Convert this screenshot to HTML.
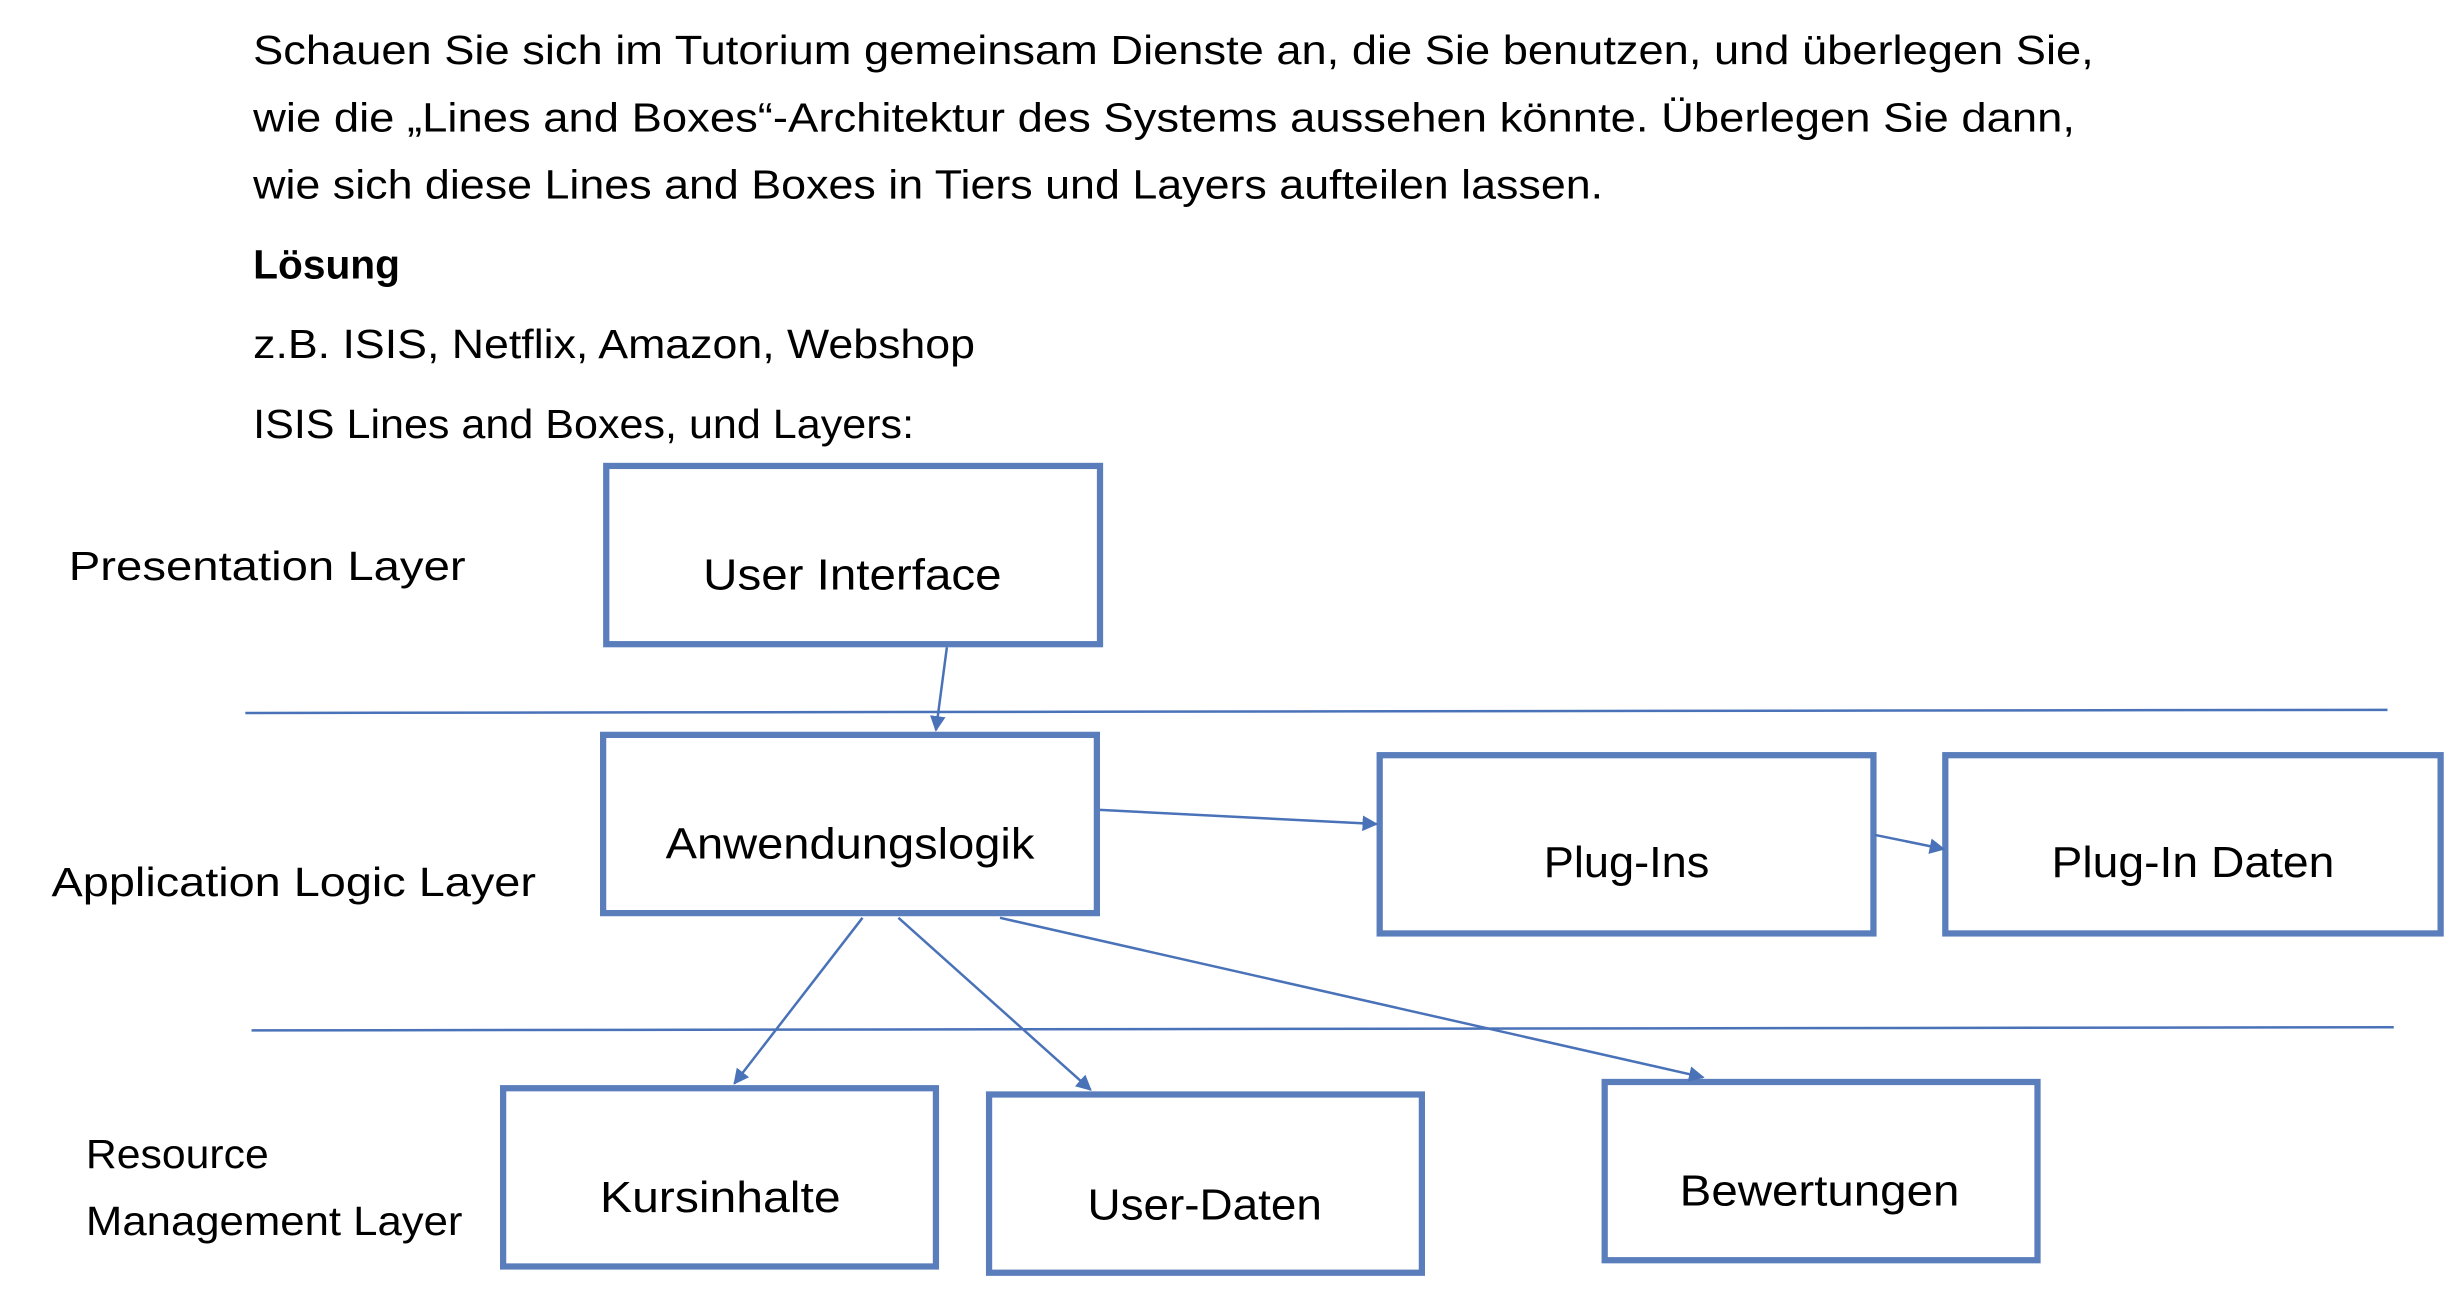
<!DOCTYPE html>
<html><head><meta charset="utf-8"><style>
html,body{margin:0;padding:0;background:#fff;}
svg{display:block;}
text{font-family:"Liberation Sans",sans-serif;fill:#000;}
</style></head><body>
<svg width="2450" height="1304" viewBox="0 0 1568 834" preserveAspectRatio="none" xmlns="http://www.w3.org/2000/svg">
<defs>
<marker id="a" markerWidth="10" markerHeight="10" refX="9" refY="5" orient="auto" markerUnits="userSpaceOnUse" viewBox="0 0 10 10">
<path d="M0,0 L10,5 L0,10 z" fill="#4a72b8"/>
</marker>
</defs>
<g font-size="26">
<text x="162" y="41" textLength="1178" lengthAdjust="spacingAndGlyphs">Schauen Sie sich im Tutorium gemeinsam Dienste an, die Sie benutzen, und überlegen Sie,</text>
<text x="162" y="84" textLength="1166" lengthAdjust="spacingAndGlyphs">wie die „Lines and Boxes“-Architektur des Systems aussehen könnte. Überlegen Sie dann,</text>
<text x="162" y="127" textLength="864" lengthAdjust="spacingAndGlyphs">wie sich diese Lines and Boxes in Tiers und Layers aufteilen lassen.</text>
<text x="162" y="178" font-weight="bold" textLength="94" lengthAdjust="spacingAndGlyphs">Lösung</text>
<text x="162" y="229" textLength="462" lengthAdjust="spacingAndGlyphs">z.B. ISIS, Netflix, Amazon, Webshop</text>
<text x="162" y="280" textLength="423" lengthAdjust="spacingAndGlyphs">ISIS Lines and Boxes, und Layers:</text>
<text x="44" y="371" textLength="254" lengthAdjust="spacingAndGlyphs">Presentation Layer</text>
<text x="33" y="573" textLength="310" lengthAdjust="spacingAndGlyphs">Application Logic Layer</text>
<text x="55" y="747" textLength="117" lengthAdjust="spacingAndGlyphs">Resource</text>
<text x="55" y="790" textLength="241" lengthAdjust="spacingAndGlyphs">Management Layer</text>
</g>
<g stroke="#5a7ebc" stroke-width="4" fill="none">
<rect x="388" y="298" width="316" height="114"/>
<rect x="386" y="470" width="316" height="114"/>
<rect x="883" y="483" width="316" height="114"/>
<rect x="1245" y="483" width="317" height="114"/>
<rect x="322" y="696" width="277" height="114"/>
<rect x="633" y="700" width="277" height="114"/>
<rect x="1027" y="692" width="277" height="114"/>
</g>
<g font-size="28">
<text x="450" y="377" textLength="191" lengthAdjust="spacingAndGlyphs">User Interface</text>
<text x="426" y="549" textLength="236" lengthAdjust="spacingAndGlyphs">Anwendungslogik</text>
<text x="988" y="561" textLength="106" lengthAdjust="spacingAndGlyphs">Plug-Ins</text>
<text x="1313" y="561" textLength="181" lengthAdjust="spacingAndGlyphs">Plug-In Daten</text>
<text x="384" y="775" textLength="154" lengthAdjust="spacingAndGlyphs">Kursinhalte</text>
<text x="696" y="780" textLength="150" lengthAdjust="spacingAndGlyphs">User-Daten</text>
<text x="1075" y="771" textLength="179" lengthAdjust="spacingAndGlyphs">Bewertungen</text>
</g>
<g stroke="#4a72b8" stroke-width="1.6" fill="none">
<line x1="157" y1="456" x2="1528" y2="454"/>
<line x1="161" y1="659" x2="1532" y2="657"/>
<line x1="606" y1="414" x2="599" y2="467" marker-end="url(#a)"/>
<line x1="704" y1="518" x2="881" y2="527" marker-end="url(#a)"/>
<line x1="1200" y1="534" x2="1244" y2="543" marker-end="url(#a)"/>
<line x1="552" y1="587" x2="470" y2="693" marker-end="url(#a)"/>
<line x1="575" y1="587" x2="698" y2="697" marker-end="url(#a)"/>
<line x1="640" y1="587" x2="1090" y2="689" marker-end="url(#a)"/>
</g>
</svg>
</body></html>
